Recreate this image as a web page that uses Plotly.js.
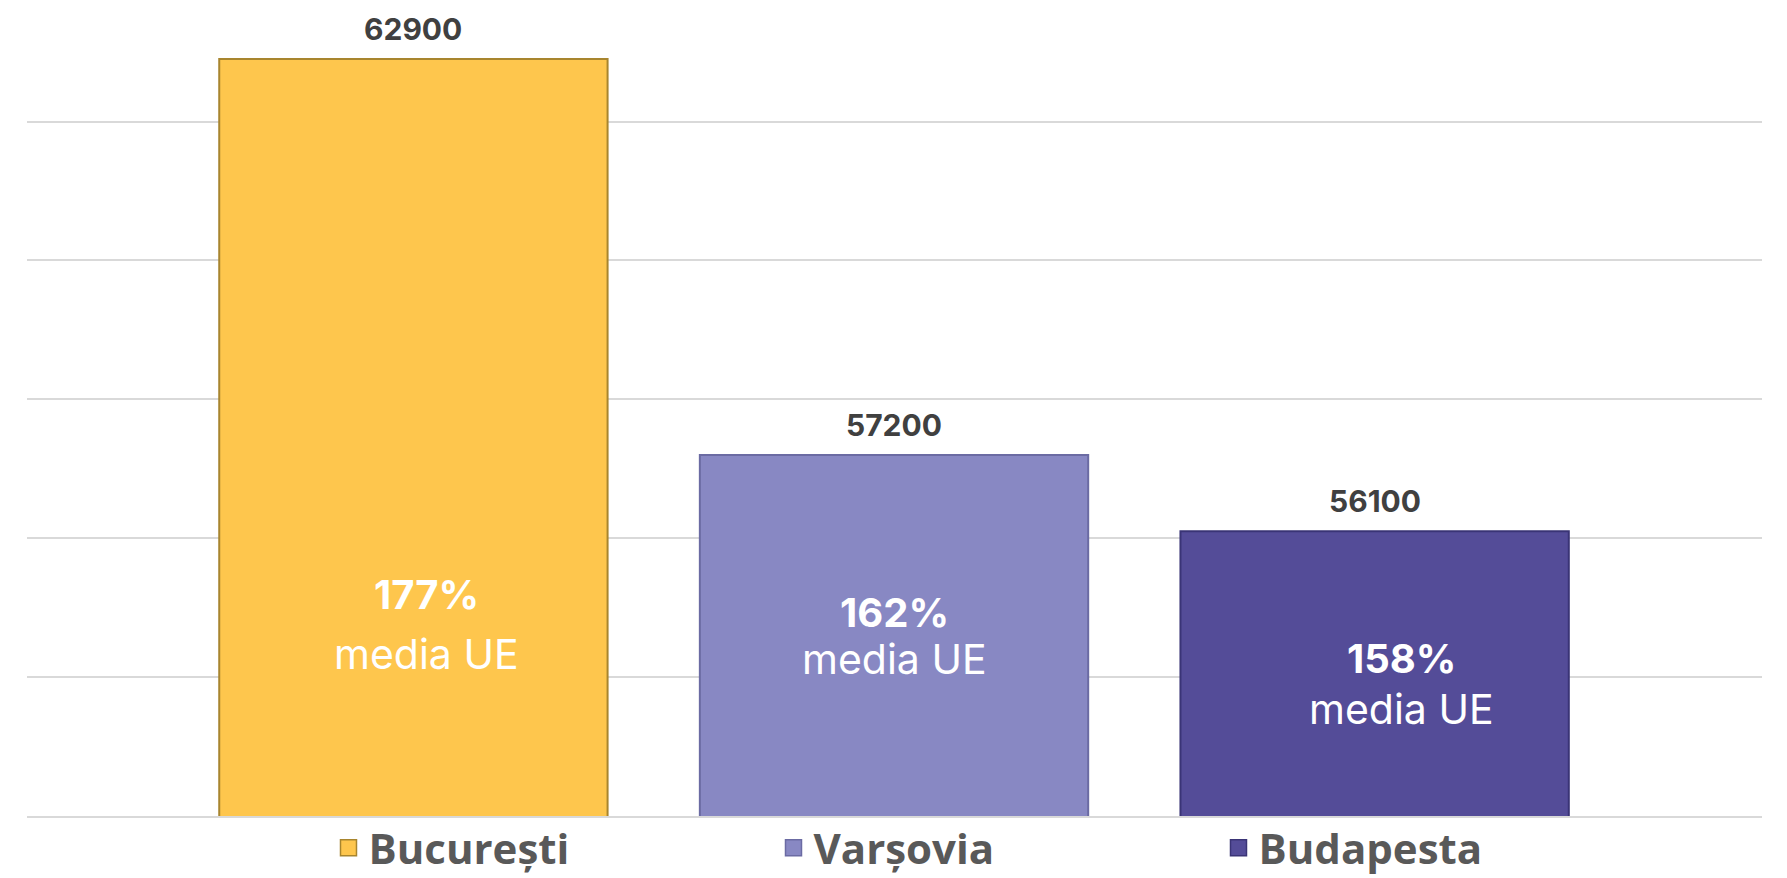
<!DOCTYPE html>
<html>
<head>
<meta charset="utf-8">
<script src="https://cdn.plot.ly/plotly-3.0.1.min.js"></script>
<style>html,body{margin:0;padding:0;background:#fff;}#chart{width:1787px;height:878px;}</style>
</head>
<body>
<div id="chart"></div>
<script>
const categories = ["București", "Varșovia", "Budapesta"];
const values = [62900, 57200, 56100];
const pctLabels = ["177%", "162%", "158%"];
const subLabel = "media UE";

const fillColors = ["#FEC64D", "#8888C3", "#544C98"];
const lineColors = ["#A8852E", "#6B6BA3", "#3A3476"];

const plotH = 816;
const innerPos = [
  {xs: 13, p: 594, m: 654},
  {xs: 0, p: 612, m: 659},
  {xs: 27, p: 658, m: 709}
];

const traces = categories.map((c, i) => ({
  type: "bar",
  x: [c],
  y: [values[i]],
  name: c,
  legendgroup: c,
  showlegend: false,
  width: 0.808,
  marker: {color: fillColors[i], line: {color: lineColors[i], width: 2}},
  hoverinfo: "x+y"
}));
// legend keys (larger square symbols)
categories.forEach((c, i) => {
  traces.push({
    type: "scatter", mode: "markers",
    x: [null], y: [null],
    name: c, legendgroup: c, showlegend: true,
    marker: {symbol: "square", size: 22, color: fillColors[i], line: {color: lineColors[i], width: 1.5}}
  });
});

const annotations = [];
categories.forEach((c, i) => {
  annotations.push({
    x: c, y: values[i], xref: "x", yref: "y",
    text: String(values[i]), showarrow: false,
    yanchor: "bottom", yshift: 10,
    font: {family: "Inter, 'Open Sans', sans-serif", size: 30, color: "#404040", weight: 700}
  });
  annotations.push({
    x: c, y: 1 - innerPos[i].p / plotH, xref: "x", yref: "paper",
    xshift: innerPos[i].xs,
    text: pctLabels[i], showarrow: false, yanchor: "middle",
    font: {family: "Inter, 'Open Sans', sans-serif", size: 40, color: "#ffffff", weight: 700}
  });
  annotations.push({
    x: c, y: 1 - innerPos[i].m / plotH, xref: "x", yref: "paper",
    xshift: innerPos[i].xs,
    text: subLabel, showarrow: false, yanchor: "middle",
    font: {family: "Inter, 'Open Sans', sans-serif", size: 41, color: "#ffffff", weight: 400}
  });
});

const layout = {
  width: 1787, height: 878,
  margin: {l: 27, r: 25, t: 0, b: 62, autoexpand: false},
  paper_bgcolor: "#ffffff", plot_bgcolor: "#ffffff",
  barmode: "overlay",
  showlegend: true,
  legend: {
    orientation: "h", xref: "paper", x: 0.5585, xanchor: "center",
    yref: "container", y: 1 - 848 / 878, yanchor: "middle",
    bgcolor: "rgba(0,0,0,0)",
    font: {family: "'Open Sans', sans-serif", size: 42, color: "#595959", weight: 700},
    entrywidth: 400, entrywidthmode: "pixels", itemsizing: "trace"
  },
  xaxis: {
    type: "category", categoryorder: "array", categoryarray: categories,
    range: [-0.804, 2.806], showticklabels: false, showgrid: false, zeroline: false,
    showline: true, linecolor: "#d9d9d9", linewidth: 2, fixedrange: true
  },
  yaxis: {
    range: [52000, 63750], tick0: 0, dtick: 2000, showticklabels: false,
    showgrid: true, gridcolor: "#d9d9d9", gridwidth: 2, zeroline: false, fixedrange: true
  },
  annotations: annotations
};

Plotly.newPlot("chart", traces, layout, {displayModeBar: false, staticPlot: true});
</script>
</body>
</html>
